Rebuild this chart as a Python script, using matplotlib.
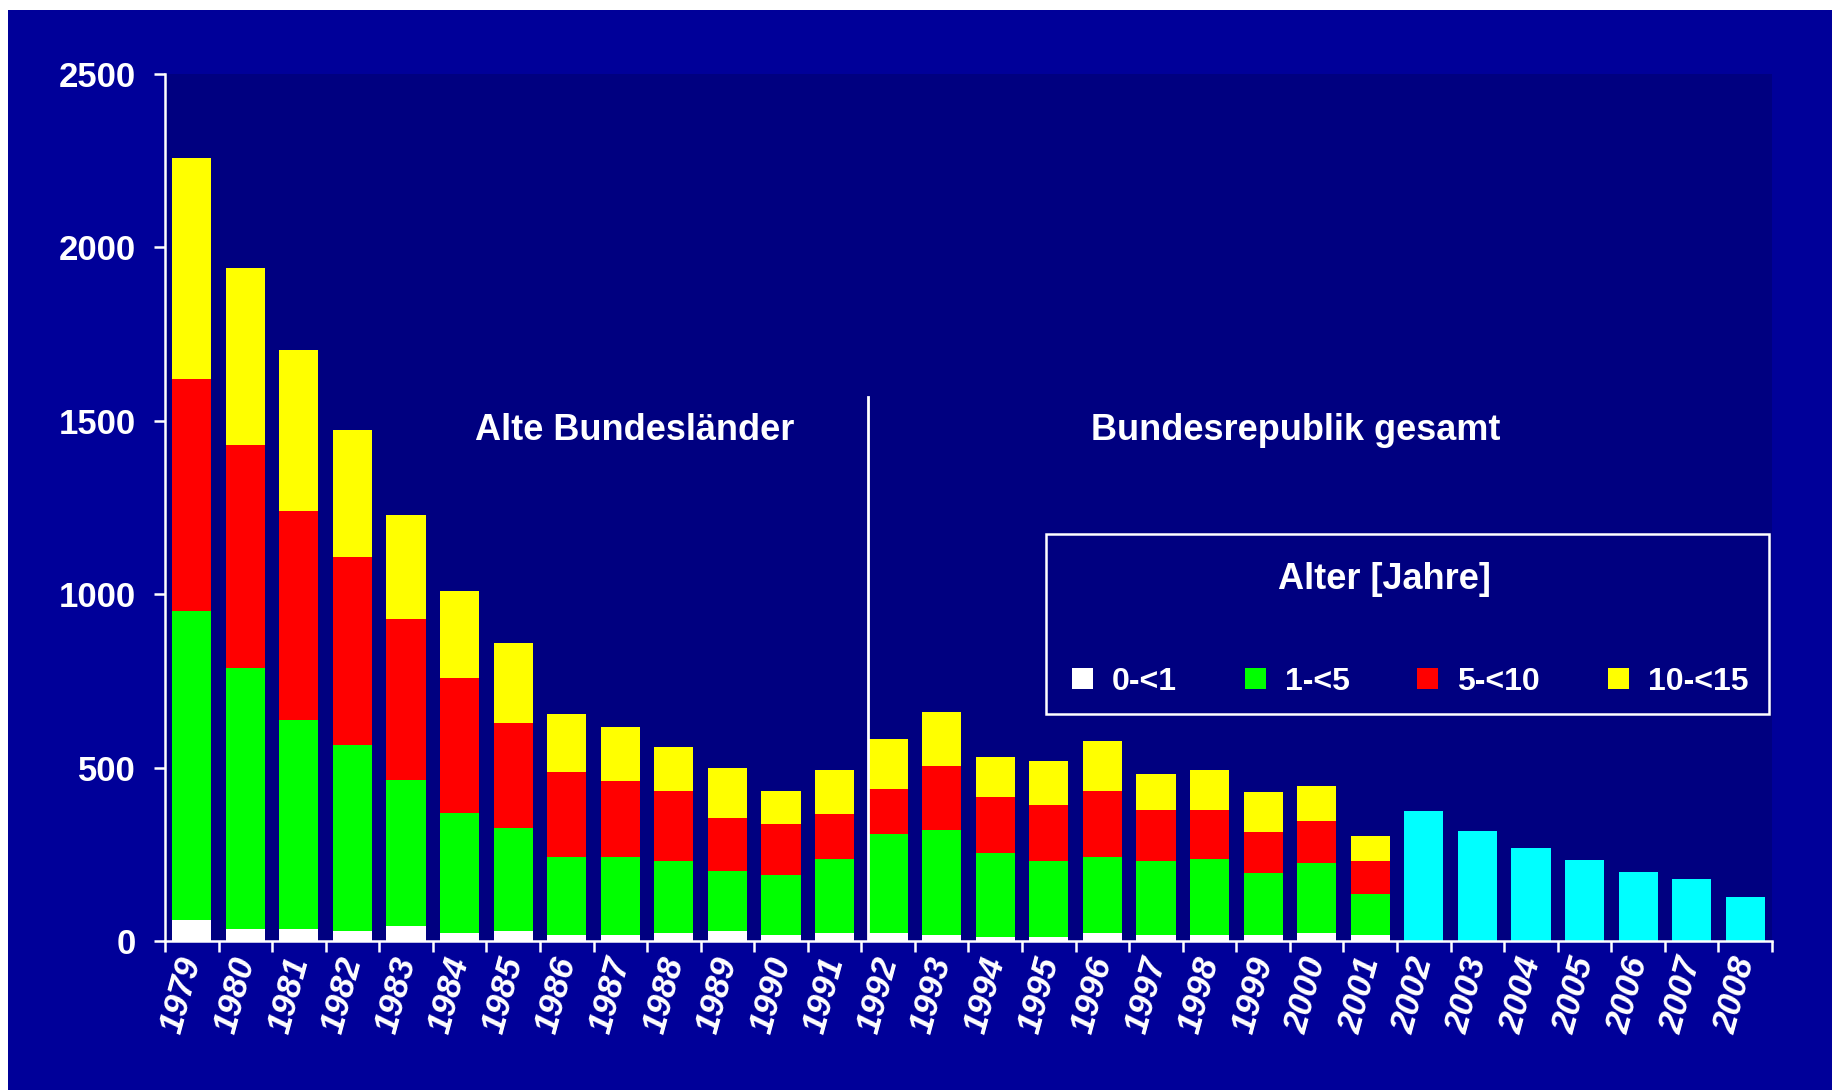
import numpy as np
from matplotlib import pyplot as plt
from matplotlib.patches import Rectangle

plt.rcParams['font.family'] = ['Liberation Sans', 'DejaVu Sans']

# Fälle pro Jahr nach Altersgruppe
jahre = [str(j) for j in range(1979, 2009)]
jahre_alt = jahre[:23]      # 1979-2001 mit Altersaufteilung
jahre_neu = jahre[23:]      # 2002-2008 nur gesamt

alter_0_1 = [60, 35, 35, 29, 43, 23, 29, 17, 17, 23, 29, 17, 23,
             23, 17, 12, 12, 23, 17, 17, 17, 23, 17]
alter_1_5 = [892, 752, 601, 536, 421, 347, 298, 225, 225, 208, 173, 173, 213,
             285, 303, 242, 219, 219, 214, 219, 179, 202, 118]
alter_5_10 = [668, 643, 604, 542, 465, 387, 302, 245, 219, 201, 153, 147, 130,
              130, 185, 161, 161, 190, 147, 142, 118, 121, 96]
alter_10_15 = [638, 510, 464, 366, 299, 252, 229, 168, 156, 127, 144, 95, 127,
               144, 155, 116, 127, 145, 103, 115, 116, 101, 72]
gesamt_neu = [375, 317, 268, 234, 199, 179, 127]

gruppen = ['0-<1', '1-<5', '5-<10', '10-<15']
farben = ['#FFFFFF', '#00FF00', '#FF0000', '#FFFF00']

fig = plt.figure(figsize=(18.32, 10.9), dpi=100)
fig.patch.set_facecolor('white')
fig.add_artist(Rectangle((8/1832, 0), 1, 1 - 10/1090, transform=fig.transFigure,
                         facecolor='#000099', edgecolor='none', zorder=-1))

ax = fig.add_axes([165/1832, 1 - 941/1090, 1607/1832, 867/1090])
ax.set_facecolor('#000080')

x_alt = np.arange(len(jahre_alt))
x_neu = np.arange(len(jahre_alt), len(jahre))
breite = 0.73

unten = np.zeros(len(jahre_alt))
balken = []
for werte, farbe, name in zip([alter_0_1, alter_1_5, alter_5_10, alter_10_15], farben, gruppen):
    b = ax.bar(x_alt, werte, breite, bottom=unten, color=farbe, label=name, zorder=2)
    balken.append(b)
    unten = unten + np.array(werte)
ax.bar(x_neu, gesamt_neu, breite, color='#00FFFF', zorder=2)

ax.set_xlim(-0.5, len(jahre) - 0.5)
ax.set_ylim(0, 2500)
ax.set_yticks(range(0, 2501, 500))

for s in ['top', 'right']:
    ax.spines[s].set_visible(False)
for s in ['left', 'bottom']:
    ax.spines[s].set_color('white')
    ax.spines[s].set_linewidth(1.8)
    ax.spines[s].set_zorder(3)

ax.set_xticks(np.arange(-0.5, len(jahre), 1))
ax.set_xticklabels([])
ax.set_xticks(np.arange(len(jahre)), minor=True)
ax.set_xticklabels(jahre, minor=True, rotation=75, fontsize=25, fontstyle='italic',
                   fontweight='bold', color='white', ha='right', va='center',
                   rotation_mode='anchor')
ax.tick_params(axis='x', which='major', length=8, width=1.8, color='white', direction='out')
ax.tick_params(axis='x', which='minor', length=0, pad=12)
ax.tick_params(axis='y', length=8, width=1.8, color='white', pad=13, labelsize=25,
               labelcolor='white')
for t in ax.get_yticklabels():
    t.set_fontweight('bold')

# Trennlinie alte / neue Bundesländer
ax.plot([12.62, 12.62], [0, 1570], color='white', linewidth=2, zorder=3)
ax.text(8.27, 1472, 'Alte Bundesländer', ha='center', va='center', fontsize=26,
        fontweight='bold', color='white')
ax.text(20.6, 1472, 'Bundesrepublik gesamt', ha='center', va='center', fontsize=26,
        fontweight='bold', color='white')

# Legendenkasten mit Titel
ax.add_patch(Rectangle((0.5485, 0.2618), 0.4499, 0.2076, transform=ax.transAxes,
                       facecolor='#000080', edgecolor='white', linewidth=1.8, zorder=4))
ax.text(0.759, 0.4175, 'Alter [Jahre]', transform=ax.transAxes, ha='center', va='center',
        fontsize=26, fontweight='bold', color='white', zorder=5)
leg = ax.legend(handles=balken, ncol=4, loc='center',
                bbox_to_anchor=(0.5644, 0.2687, 0.4209, 0.06), mode='expand',
                borderaxespad=0, borderpad=0, fontsize=23,
                handlelength=0.65, handleheight=0.65, handletextpad=0.6,
                frameon=False)
leg.set_zorder(6)
for t in leg.get_texts():
    t.set_color('white')
    t.set_fontweight('bold')

fig.savefig('out.png', dpi=100)
